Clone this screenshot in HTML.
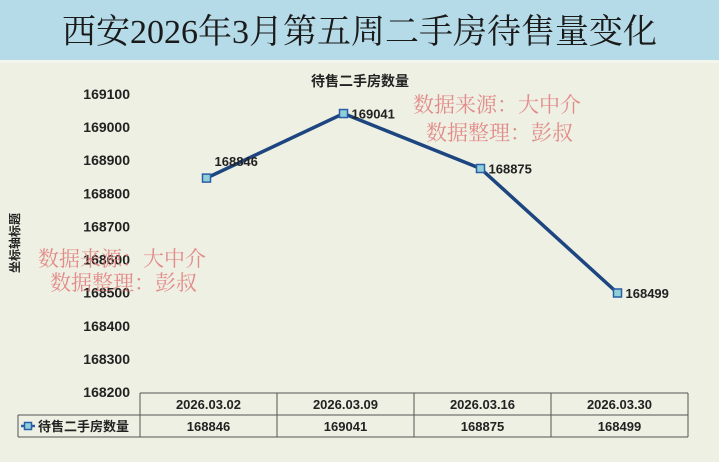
<!DOCTYPE html>
<html><head><meta charset="utf-8"><style>
body{margin:0;width:719px;height:462px;overflow:hidden;background:#eef0e3;font-family:"Liberation Sans","Noto Sans CJK SC",sans-serif;}
#hdr{position:absolute;left:0;top:0;width:719px;height:60px;background:#b5dbe8;border-bottom:3px solid #f4f6ee;}
#title{position:absolute;left:0;top:0;width:719px;height:62px;line-height:66px;text-align:center;font-family:"Liberation Serif","Noto Serif CJK SC",serif;font-size:34px;color:#1a1a1a;}
svg{position:absolute;left:0;top:0;}
.wm{font-family:"Liberation Serif","Noto Serif CJK SC",serif;font-size:21px;fill:#e07a7a;opacity:.85}
</style></head><body>
<div id="hdr"></div>
<div id="title">西安2026年3月第五周二手房待售量变化</div>
<svg width="719" height="462" id="chart"></svg>
<script>
const categories=["2026.03.02","2026.03.09","2026.03.16","2026.03.30"];
const values=[168846,169041,168875,168499];
const yTicks=[169100,169000,168900,168800,168700,168600,168500,168400,168300,168200];
const seriesName="待售二手房数量";
const NS="http://www.w3.org/2000/svg";
const svg=document.getElementById('chart');
const x0=140,x1=688,yTop=94,yBot=392,vMin=168200,vMax=169100;
const colW=(x1-x0)/categories.length;
function xs(i){return x0+colW*(i+0.5)-2;}
function ys(v){return yBot-(v-vMin)/(vMax-vMin)*(yBot-yTop);}
function mk(tag,attrs,txt){const e=document.createElementNS(NS,tag);for(const k in attrs)e.setAttribute(k,attrs[k]);if(txt!=null)e.textContent=txt;svg.appendChild(e);return e;}
let t=mk('text',{x:360,y:86,'text-anchor':'middle','font-size':14,'font-weight':'bold',fill:'#222'},seriesName);


t=mk('text',{x:19,y:243,'text-anchor':'middle','font-size':12,'font-weight':'bold',fill:'#222',transform:'rotate(-90 19 243)'},'坐标轴标题');


yTicks.forEach(v=>{const e=mk('text',{x:130,y:ys(v)+5,'text-anchor':'end','font-size':14,'font-weight':'bold',fill:'#222'},v);

});
const rT=393,rM=415,rB=437,lx=18;
const g=[['line',{x1:x0,y1:rT,x2:x1,y2:rT}],['line',{x1:lx,y1:rM,x2:x1,y2:rM}],['line',{x1:lx,y1:rB,x2:x1,y2:rB}],['line',{x1:lx,y1:rM,x2:lx,y2:rB}]];
g.forEach(a=>{const e=mk(a[0],Object.assign({stroke:'#555','stroke-width':1},a[1]));});
for(let i=0;i<=categories.length;i++){const x=x0+colW*i;const e=mk('line',{x1:x,y1:rT,x2:x,y2:rB,stroke:'#555'});

}
categories.forEach((c,i)=>{const cx=x0+colW*(i+0.5);
let e=mk('text',{x:cx,y:rT+16,'text-anchor':'middle','font-size':13,'font-weight':'bold',fill:'#222'},c);


e=mk('text',{x:cx,y:rM+16,'text-anchor':'middle','font-size':13,'font-weight':'bold',fill:'#222'},values[i]);

});
let e=mk('line',{x1:21,y1:426,x2:35,y2:426,stroke:'#2a5da8','stroke-width':2.5});


e=mk('rect',{x:24.5,y:422.5,width:7,height:7,fill:'#8fd0d8',stroke:'#2a5da8','stroke-width':1.5});


e=mk('text',{x:38,y:431,'font-size':13,'font-weight':'bold',fill:'#222'},seriesName);


const pts=values.map((v,i)=>xs(i)+','+ys(v)).join(' ');
e=mk('polyline',{points:pts,fill:'none',stroke:'#1d4580','stroke-width':3.5,'stroke-linejoin':'round'});


values.forEach((v,i)=>{const x=xs(i),y=ys(v);
let m=mk('rect',{x:x-4,y:y-4,width:8,height:8,fill:'#8fd0d8',stroke:'#2a5da8','stroke-width':1.5});


const dy=i===0?-12:5;const dx=8;
m=mk('text',{x:x+dx,y:y+dy,'font-size':13,'font-weight':'bold',fill:'#222'},v);

});
[[413,112,'数据来源：大中介'],[426,140,'数据整理：彭叔'],[38,266,'数据来源：大中介'],[50,290,'数据整理：彭叔']].forEach(a=>{
const w=mk('text',{x:a[0],y:a[1],class:'wm'},a[2]);

});
</script>
</body></html>
